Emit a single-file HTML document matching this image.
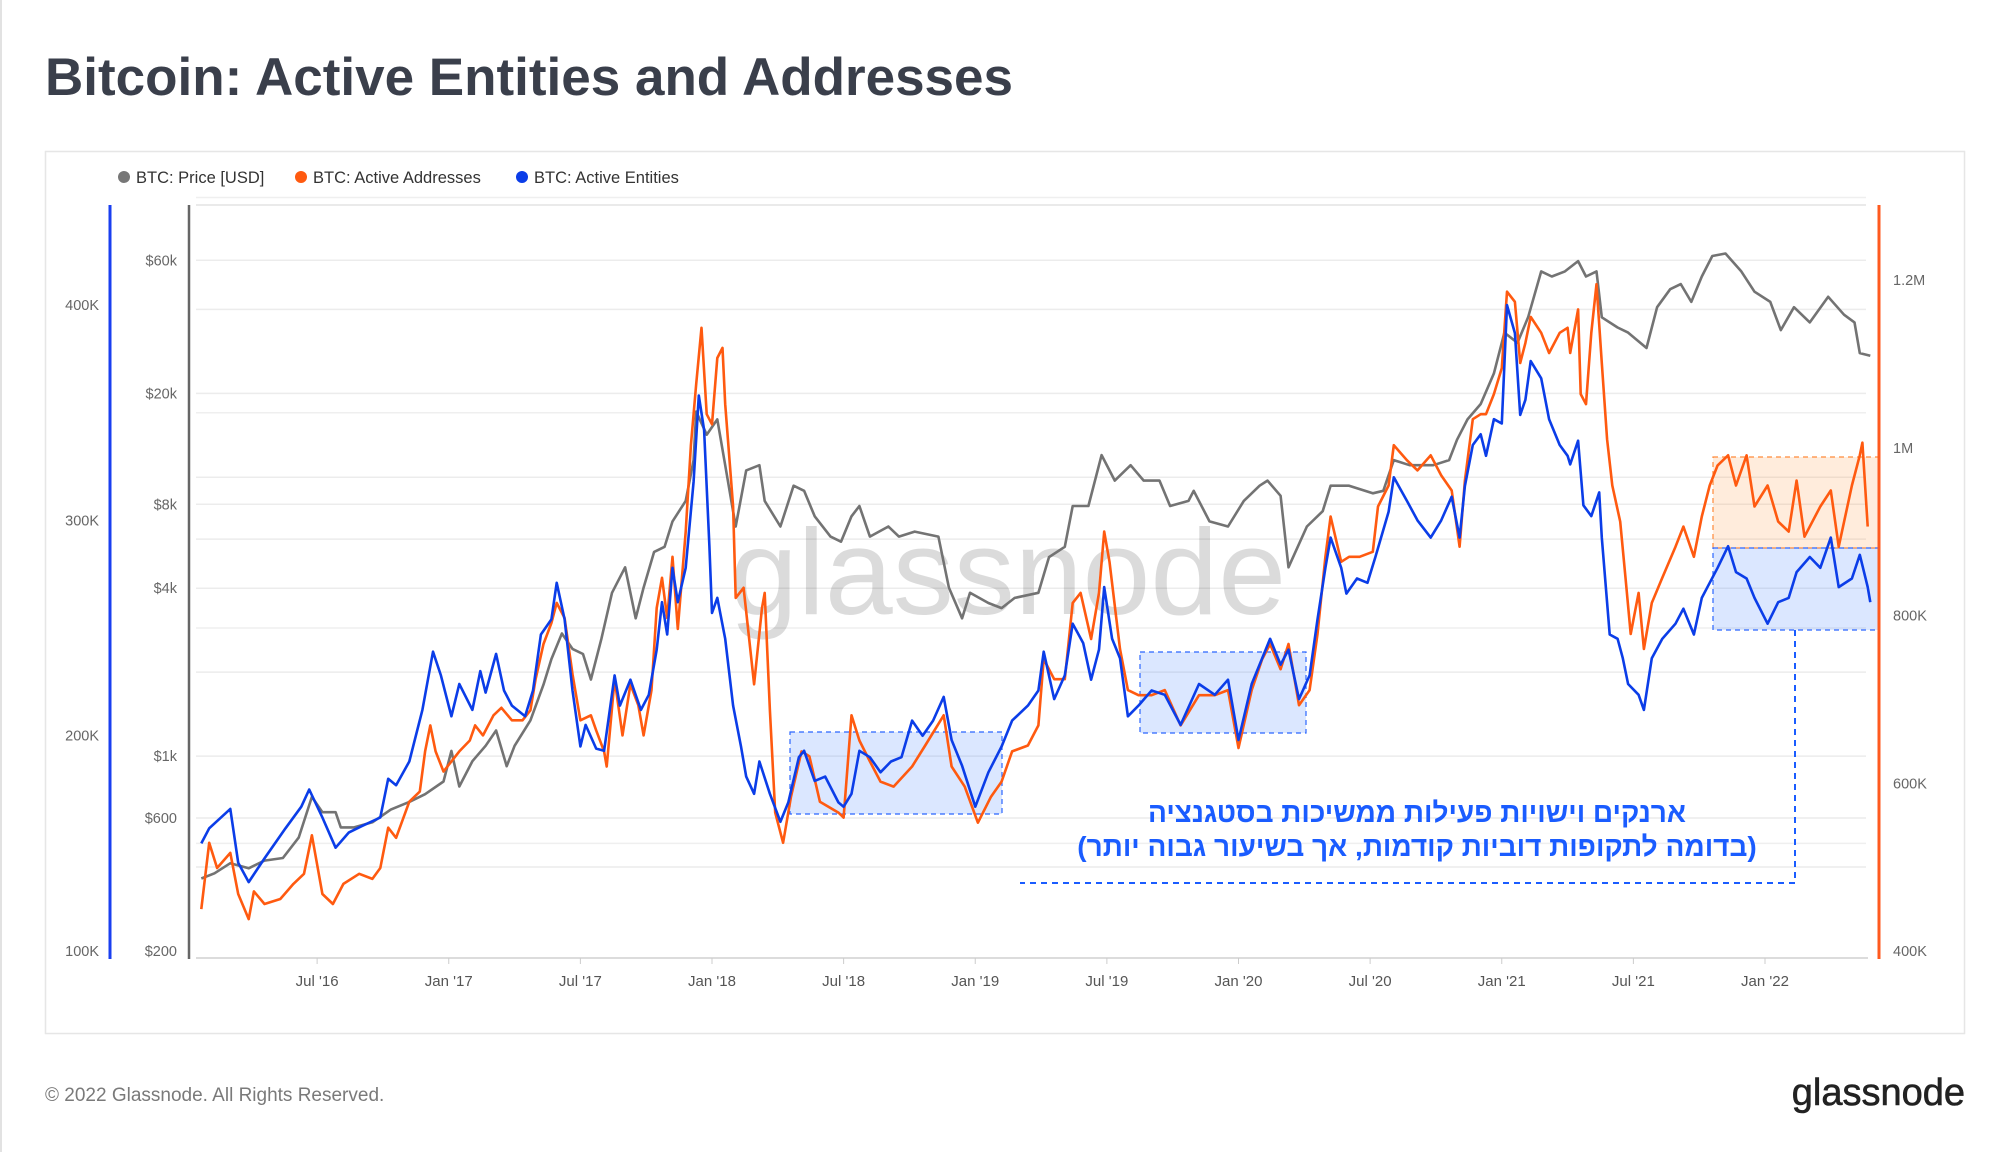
<!DOCTYPE html>
<html><head><meta charset="utf-8"><title>Bitcoin: Active Entities and Addresses</title>
<style>
html,body{margin:0;padding:0;background:#fff;}
body{width:2000px;height:1152px;overflow:hidden;font-family:"Liberation Sans","DejaVu Sans",sans-serif;}
svg text{font-family:"Liberation Sans","DejaVu Sans",sans-serif;}
</style></head>
<body>
<svg id="chart" width="2000" height="1152" viewBox="0 0 2000 1152" xmlns="http://www.w3.org/2000/svg">
  <line x1="1" y1="0" x2="1" y2="1152" stroke="#e2e2e2" stroke-width="2"/>
  <text x="45" y="95" font-size="53" font-weight="bold" fill="#3a3f4b">Bitcoin: Active Entities and Addresses</text>
  <rect x="45.5" y="151.5" width="1919" height="882" fill="#fff" stroke="#e6e6e6" stroke-width="1.5"/>
  <g>
    <g><circle cx="124" cy="177" r="6" fill="#777"/><text x="136" y="183" font-size="16.5" fill="#333">BTC: Price [USD]</text></g>
    <g><circle cx="301" cy="177" r="6" fill="#ff5a10"/><text x="313" y="183" font-size="16.5" fill="#333">BTC: Active Addresses</text></g>
    <g><circle cx="522" cy="177" r="6" fill="#0b3de8"/><text x="534" y="183" font-size="16.5" fill="#333">BTC: Active Entities</text></g>
  </g>
  <g id="grid"></g>
  <text x="1008" y="614" font-size="122" fill="#000" fill-opacity="0.14" text-anchor="middle">glassnode</text>
  <g id="boxes">
    <rect x="790" y="732" width="212" height="82" fill="rgba(40,110,255,0.17)" stroke="#2b66ff" stroke-dasharray="5,4" stroke-width="1.2"/>
    <rect x="1140" y="652" width="166" height="81" fill="rgba(40,110,255,0.17)" stroke="#2b66ff" stroke-dasharray="5,4" stroke-width="1.2"/>
    <rect x="1713" y="457" width="166" height="91" fill="rgba(255,150,60,0.18)" stroke="#ff8a3a" stroke-dasharray="5,4" stroke-width="1.2"/>
    <rect x="1713" y="548" width="166" height="82" fill="rgba(40,110,255,0.17)" stroke="#2b66ff" stroke-dasharray="5,4" stroke-width="1.2"/>
  </g>
  <g id="series"></g>
  <polyline points="1795,630 1795,883 1020,883" fill="none" stroke="#1a5cff" stroke-width="2" stroke-dasharray="6,5"/>
  <g font-size="28" font-weight="bold" fill="#1a5cff" text-anchor="middle">
    <text x="1417" y="822" direction="rtl">ארנקים וישויות פעילות ממשיכות בסטגנציה</text>
    <text x="1417" y="856" direction="rtl">(בדומה לתקופות דוביות קודמות, אך בשיעור גבוה יותר)</text>
  </g>
  <line x1="110" y1="205" x2="110" y2="959" stroke="#1a3ff0" stroke-width="3"/>
  <line x1="189" y1="205" x2="189" y2="959" stroke="#666" stroke-width="2.5"/>
  <line x1="1879" y1="205" x2="1879" y2="959" stroke="#ff5a1f" stroke-width="3"/>
  <line x1="196" y1="958" x2="1868" y2="958" stroke="#d0d0d0" stroke-width="1.5"/>
  <g id="axes"></g>
  <text x="45" y="1101" font-size="19" fill="#7a7a7a">© 2022 Glassnode. All Rights Reserved.</text>
  <text x="1965" y="1105" font-size="38" fill="#222" text-anchor="end" stroke="#222" stroke-width="0.6">glassnode</text>
</svg>
<script>
var priceDates=[2016.06,2016.11,2016.17,2016.24,2016.30,2016.37,2016.43,2016.48,2016.52,2016.57,2016.59,2016.64,2016.71,2016.78,2016.85,2016.91,2016.98,2017.01,2017.04,2017.09,2017.14,2017.18,2017.22,2017.25,2017.31,2017.36,2017.39,2017.43,2017.47,2017.51,2017.54,2017.58,2017.62,2017.67,2017.71,2017.74,2017.78,2017.82,2017.85,2017.90,2017.93,2017.94,2017.98,2018.02,2018.05,2018.09,2018.13,2018.18,2018.20,2018.26,2018.31,2018.35,2018.39,2018.45,2018.49,2018.53,2018.56,2018.60,2018.67,2018.71,2018.77,2018.86,2018.90,2018.95,2018.98,2019.05,2019.10,2019.15,2019.24,2019.28,2019.34,2019.37,2019.43,2019.48,2019.53,2019.59,2019.64,2019.70,2019.74,2019.81,2019.83,2019.89,2019.96,2020.02,2020.08,2020.11,2020.16,2020.19,2020.26,2020.32,2020.35,2020.42,2020.51,2020.55,2020.59,2020.65,2020.74,2020.80,2020.83,2020.87,2020.92,2020.97,2021.01,2021.06,2021.10,2021.15,2021.19,2021.24,2021.29,2021.32,2021.36,2021.38,2021.44,2021.48,2021.55,2021.59,2021.64,2021.68,2021.72,2021.76,2021.80,2021.85,2021.91,2021.96,2022.02,2022.06,2022.11,2022.17,2022.24,2022.30,2022.34,2022.36,2022.40];
var priceValues=[364,380,413,396,422,431,510,714,629,629,555,555,579,643,685,730,811,1044,778,959,1089,1235,920,1089,1343,1804,2228,2751,2423,2323,1882,2635,3853,4754,3121,4019,5398,5629,6944,8224,11520,17190,14210,16130,11050,6658,10580,11050,8224,6658,9330,8945,7242,6124,5871,7242,7885,6124,6658,6124,6384,6124,4019,3121,3853,3539,3393,3692,3853,5172,5629,7885,7885,12010,9730,11050,9730,9730,7885,8224,8945,6944,6658,8224,9330,9730,8577,4754,6658,7555,9330,9330,8760,8945,11520,11050,11050,11520,13630,16130,18310,23570,33010,30350,37480,54720,52470,54720,59570,52470,54720,37480,34440,33010,29070,40740,47250,49280,42530,52470,62130,63450,54720,46270,42530,33720,40740,35910,44360,38280,35910,27870,27290];
var addrDates=[2016.06,2016.09,2016.12,2016.17,2016.20,2016.24,2016.26,2016.30,2016.36,2016.41,2016.45,2016.48,2016.52,2016.56,2016.60,2016.66,2016.71,2016.74,2016.77,2016.80,2016.85,2016.89,2016.91,2016.93,2016.95,2016.98,2017.01,2017.04,2017.08,2017.10,2017.13,2017.17,2017.20,2017.24,2017.28,2017.31,2017.33,2017.36,2017.39,2017.41,2017.44,2017.47,2017.50,2017.54,2017.56,2017.59,2017.60,2017.63,2017.66,2017.69,2017.72,2017.74,2017.77,2017.79,2017.81,2017.83,2017.85,2017.87,2017.90,2017.92,2017.94,2017.96,2017.98,2018.00,2018.02,2018.04,2018.05,2018.08,2018.09,2018.12,2018.16,2018.19,2018.20,2018.22,2018.24,2018.27,2018.30,2018.34,2018.37,2018.41,2018.48,2018.50,2018.53,2018.56,2018.60,2018.64,2018.69,2018.76,2018.81,2018.88,2018.91,2018.96,2019.01,2019.06,2019.10,2019.14,2019.20,2019.24,2019.26,2019.30,2019.34,2019.37,2019.40,2019.44,2019.47,2019.49,2019.51,2019.55,2019.58,2019.62,2019.67,2019.72,2019.78,2019.85,2019.91,2019.96,2020.00,2020.05,2020.09,2020.12,2020.16,2020.19,2020.23,2020.27,2020.30,2020.33,2020.35,2020.39,2020.42,2020.46,2020.51,2020.53,2020.57,2020.59,2020.64,2020.68,2020.73,2020.77,2020.81,2020.84,2020.86,2020.89,2020.92,2020.94,2020.97,2021.00,2021.02,2021.05,2021.07,2021.09,2021.11,2021.15,2021.18,2021.22,2021.25,2021.26,2021.29,2021.30,2021.32,2021.34,2021.36,2021.38,2021.40,2021.42,2021.45,2021.47,2021.49,2021.52,2021.54,2021.57,2021.61,2021.66,2021.69,2021.73,2021.76,2021.79,2021.82,2021.86,2021.89,2021.93,2021.96,2022.01,2022.05,2022.09,2022.12,2022.15,2022.21,2022.25,2022.28,2022.33,2022.36,2022.37,2022.39];
var addrValues=[450,529,499,517,468,438,471,456,462,480,492,538,468,456,480,492,486,499,547,535,578,590,638,669,638,614,626,638,651,669,657,681,690,675,675,687,724,766,791,815,797,730,675,681,663,638,620,724,657,718,693,657,711,809,845,797,870,784,900,1003,1076,1143,1040,1028,1107,1119,1052,930,821,833,718,809,827,687,565,529,584,638,632,578,565,559,681,651,626,602,596,620,645,681,620,596,553,584,602,638,645,669,748,724,724,815,827,772,827,900,864,760,711,705,705,711,669,705,705,711,642,711,748,766,736,766,693,711,778,870,918,864,870,870,876,930,955,1003,985,973,991,967,949,882,961,1034,1040,1040,1064,1095,1186,1174,1101,1125,1156,1137,1113,1137,1143,1113,1165,1064,1052,1137,1195,1101,1010,955,912,845,778,827,760,815,845,882,906,870,918,955,979,991,955,991,930,955,912,900,961,894,930,949,882,955,991,1006,906];
var entDates=[2016.06,2016.09,2016.17,2016.20,2016.24,2016.30,2016.38,2016.44,2016.47,2016.52,2016.57,2016.62,2016.67,2016.74,2016.77,2016.80,2016.85,2016.90,2016.94,2016.97,2017.01,2017.04,2017.09,2017.12,2017.14,2017.18,2017.21,2017.24,2017.29,2017.32,2017.35,2017.39,2017.41,2017.44,2017.47,2017.50,2017.52,2017.56,2017.59,2017.63,2017.65,2017.69,2017.73,2017.76,2017.79,2017.81,2017.83,2017.85,2017.87,2017.90,2017.93,2017.95,2017.97,2017.99,2018.00,2018.02,2018.05,2018.08,2018.11,2018.13,2018.16,2018.18,2018.22,2018.26,2018.29,2018.33,2018.35,2018.39,2018.43,2018.48,2018.50,2018.53,2018.56,2018.60,2018.64,2018.68,2018.72,2018.76,2018.80,2018.84,2018.88,2018.91,2018.95,2019.00,2019.05,2019.10,2019.14,2019.20,2019.24,2019.26,2019.30,2019.34,2019.37,2019.41,2019.44,2019.47,2019.49,2019.52,2019.55,2019.58,2019.62,2019.67,2019.72,2019.78,2019.85,2019.91,2019.96,2020.00,2020.05,2020.09,2020.12,2020.16,2020.19,2020.23,2020.27,2020.30,2020.33,2020.35,2020.39,2020.41,2020.45,2020.49,2020.52,2020.57,2020.59,2020.64,2020.68,2020.73,2020.77,2020.81,2020.84,2020.86,2020.89,2020.92,2020.94,2020.97,2021.00,2021.02,2021.05,2021.07,2021.09,2021.11,2021.15,2021.18,2021.22,2021.25,2021.26,2021.29,2021.31,2021.34,2021.37,2021.38,2021.41,2021.44,2021.46,2021.48,2021.52,2021.54,2021.57,2021.61,2021.66,2021.69,2021.73,2021.76,2021.79,2021.82,2021.86,2021.89,2021.93,2021.96,2022.01,2022.05,2022.09,2022.12,2022.17,2022.21,2022.25,2022.28,2022.33,2022.36,2022.39,2022.40];
var entValues=[150,157,166,141,132,143,157,167,175,162,148,155,158,162,180,177,188,212,239,228,209,224,212,230,220,238,221,214,209,221,247,254,271,254,221,195,205,194,193,228,214,226,212,219,240,262,247,278,262,278,318,358,342,288,257,264,245,214,195,181,173,188,173,160,169,190,193,179,181,169,167,173,193,190,183,188,190,207,200,207,218,198,186,167,183,195,207,214,221,239,217,228,252,243,226,240,269,245,236,209,214,221,219,205,224,219,226,198,224,236,245,233,240,217,228,254,278,292,278,266,273,271,283,304,320,309,300,292,300,311,292,316,335,340,330,347,345,400,387,349,356,374,366,347,335,330,326,337,307,302,313,292,247,245,236,224,219,212,236,245,252,259,247,264,271,278,288,276,273,264,252,262,264,276,283,278,292,269,273,284,269,262];
var xTickLabels=["Jul '16","Jan '17","Jul '17","Jan '18","Jul '18","Jan '19","Jul '19","Jan '20","Jul '20","Jan '21","Jul '21","Jan '22"];
var xTickDates=[2016.5,2017,2017.5,2018,2018.5,2019,2019.5,2020,2020.5,2021,2021.5,2022];
var priceTickLabels=["$60k","$20k","$8k","$4k","$1k","$600","$200"];
var priceTickValues=[60000,20000,8000,4000,1000,600,200];
var entTickLabels=["400K","300K","200K","100K"];
var entTickValues=[400,300,200,100];
var addrTickLabels=["1.2M","1M","800K","600K","400K"];
var addrTickValues=[1200,1000,800,600,400];

var NS="http://www.w3.org/2000/svg";
function xs(yr){return 712+(yr-2018)*263.25;}
function yPrice(p){return 951-121.1*Math.log(p/200);}
function yEnt(v){return 951-(v-100)*2.153;}
function yAddr(v){return 951-(v-400)*0.83875;}
function mk(tag,attrs,parent){var e=document.createElementNS(NS,tag);for(var k in attrs)e.setAttribute(k,attrs[k]);parent.appendChild(e);return e;}

var grid=document.getElementById('grid');
var gridPrices=[60000,40000,20000,10000,8000,6000,4000,2000,1000,600,400];
gridPrices.forEach(function(p){
  var l=mk('line',{x1:196,x2:1866,y1:yPrice(p),y2:yPrice(p),stroke:'#ececec','stroke-width':1.5},grid);
  
  
});
[450,350,250,150].forEach(function(v){
  var l=mk('line',{x1:196,x2:1866,y1:yEnt(v),y2:yEnt(v),stroke:'#efefef','stroke-width':1.5},grid);
  
  
});
var topLine=mk('line',{x1:196,x2:1866,y1:205,y2:205,stroke:'#e4e4e4','stroke-width':1.5},grid);



var series=document.getElementById('series');
function drawLine(dates,vals,yf,color,name){
  var pts=dates.map(function(d,i){return xs(d).toFixed(1)+','+yf(vals[i]).toFixed(1);}).join(' ');
  var pl=mk('polyline',{points:pts,fill:'none',stroke:color,'stroke-width':2.6,'stroke-linejoin':'round'},series);
  
  
}
drawLine(priceDates,priceValues,yPrice,'#737373','price-line');
drawLine(addrDates,addrValues,yAddr,'#ff5a10','active-addresses-line');
drawLine(entDates,entValues,yEnt,'#0b3de8','active-entities-line');

var axes=document.getElementById('axes');
xTickDates.forEach(function(d,i){
  var t=mk('text',{x:xs(d),y:986,'font-size':15,fill:'#555','text-anchor':'middle'},axes);
  t.textContent=xTickLabels[i];
  
  
  var tk=mk('line',{x1:xs(d),x2:xs(d),y1:958,y2:964,stroke:'#ccc','stroke-width':1},axes);
  
  
});
priceTickValues.forEach(function(v,i){
  var t=mk('text',{x:177,y:yPrice(v)+5,'font-size':14.5,fill:'#666','text-anchor':'end'},axes);
  t.textContent=priceTickLabels[i];
  
  
});
entTickValues.forEach(function(v,i){
  var t=mk('text',{x:99,y:yEnt(v)+5,'font-size':14.5,fill:'#666','text-anchor':'end'},axes);
  t.textContent=entTickLabels[i];
  
  
});
addrTickValues.forEach(function(v,i){
  var t=mk('text',{x:1893,y:yAddr(v)+5,'font-size':14.5,fill:'#666','text-anchor':'start'},axes);
  t.textContent=addrTickLabels[i];
  
  
});
</script>
</body></html>
